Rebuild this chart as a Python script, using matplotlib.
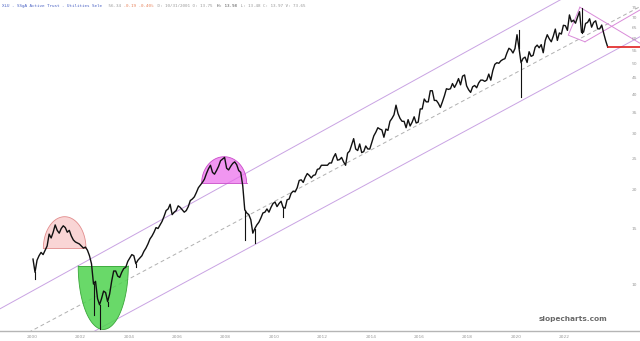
import numpy as np
from matplotlib import pyplot as plt

# XLU monthly closes (dividend adjusted), Jan 2000 .. Oct 2023
closes_2000 = [12.0, 10.9, 11.9, 12.3, 12.6, 12.4, 12.8, 13.2, 14.4, 14.0, 14.6, 15.4]
closes_2001 = [14.8, 14.5, 15.0, 15.3, 15.1, 14.6, 14.8, 14.2, 13.8, 13.6, 13.5, 13.4]
closes_2002 = [13.2, 13.0, 13.1, 12.8, 12.3, 11.6, 10.0, 10.2, 9.0, 8.6, 9.0, 9.5]
closes_2003 = [9.4, 8.8, 9.3, 10.2, 11.0, 11.0, 10.6, 10.5, 10.9, 11.2, 11.3, 11.8]
closes_2004 = [12.1, 12.4, 12.3, 11.6, 11.9, 12.1, 12.3, 12.7, 13.0, 13.4, 13.9, 14.2]
closes_2005 = [14.6, 15.1, 15.0, 15.4, 15.8, 16.4, 17.1, 17.3, 17.9, 16.6, 16.9, 17.1]
closes_2006 = [17.7, 17.5, 17.2, 16.9, 17.1, 17.6, 18.4, 18.6, 18.9, 19.5, 20.2, 20.6]
closes_2007 = [21.0, 21.5, 22.4, 23.2, 23.8, 22.6, 22.3, 22.9, 23.6, 24.6, 24.9, 25.2]
closes_2008 = [23.3, 23.0, 23.6, 24.1, 24.4, 23.9, 22.9, 22.6, 20.5, 17.2, 16.8, 16.6]
closes_2009 = [16.0, 14.5, 15.0, 15.4, 15.7, 16.2, 16.8, 16.9, 17.3, 16.9, 17.5, 18.0]
closes_2010 = [18.2, 17.6, 18.0, 18.3, 17.5, 17.4, 18.5, 18.6, 19.4, 19.7, 19.6, 20.2]
closes_2011 = [21.3, 21.4, 21.0, 21.8, 22.4, 22.1, 21.7, 22.1, 22.2, 23.1, 23.2, 23.8]
closes_2012 = [23.8, 23.8, 23.8, 24.2, 24.2, 25.2, 25.9, 24.7, 24.8, 25.2, 24.4, 23.8]
closes_2013 = [26.0, 26.4, 27.6, 28.9, 26.8, 26.5, 27.8, 26.1, 26.3, 27.4, 26.8, 26.8]
closes_2014 = [28.1, 29.5, 30.3, 31.3, 31.0, 30.8, 29.2, 31.0, 30.7, 32.8, 33.5, 34.4]
closes_2015 = [36.9, 34.7, 33.5, 32.8, 32.8, 31.3, 33.2, 31.7, 32.6, 33.9, 32.4, 32.6]
closes_2016 = [35.9, 35.9, 38.6, 37.8, 37.8, 41.0, 41.0, 38.2, 38.2, 37.4, 36.3, 37.8]
closes_2017 = [39.5, 41.6, 41.4, 41.6, 43.2, 42.0, 43.2, 44.8, 42.8, 45.6, 46.0, 42.5]
closes_2018 = [41.3, 40.5, 42.2, 42.6, 41.9, 43.4, 44.3, 44.3, 43.9, 44.3, 46.3, 44.3]
closes_2019 = [47.5, 49.7, 50.3, 50.1, 51.0, 51.5, 51.8, 54.0, 55.9, 55.3, 54.0, 55.8]
closes_2020 = [61.7, 55.9, 50.3, 51.9, 52.4, 50.4, 54.5, 52.7, 53.1, 56.3, 57.2, 56.1]
closes_2021 = [57.4, 54.1, 59.2, 61.7, 59.9, 58.6, 61.1, 64.3, 59.2, 62.5, 62.0, 66.1]
closes_2022 = [65.9, 63.7, 71.3, 67.8, 68.6, 67.1, 70.1, 73.0, 62.7, 62.9, 67.0, 67.5]
closes_2023 = [69.3, 65.2, 67.5, 68.3, 64.4, 64.4, 66.2, 62.3, 59.0, 56.34]

closes = (closes_2000 + closes_2001 + closes_2002 + closes_2003 + closes_2004 + closes_2005
          + closes_2006 + closes_2007 + closes_2008 + closes_2009 + closes_2010 + closes_2011
          + closes_2012 + closes_2013 + closes_2014 + closes_2015 + closes_2016 + closes_2017
          + closes_2018 + closes_2019 + closes_2020 + closes_2021 + closes_2022 + closes_2023)

# intra-month extremes that stick out of the close line
spike_months = ['2000-02', '2002-07', '2002-10', '2003-02', '2004-04', '2008-10',
                '2009-03', '2010-05', '2020-02', '2020-03', '2022-09']
spike_values = [10.4, 8.0, 7.2, 8.5, 11.3, 13.8, 13.5, 16.3, 64.0, 39.1, 75.0]

year_ticks = [2000, 2002, 2004, 2006, 2008, 2010, 2012, 2014, 2016, 2018, 2020, 2022]
price_ticks = [10, 15, 20, 25, 30, 35, 40, 45, 50, 55, 60, 65, 70, 75]

# drawn annotations (year, price)
dome_2001 = (2000.47, 2002.23, 12.98, 16.35)
bowl_2002 = (2001.91, 2003.98, 11.41, 7.18)
dome_2007 = (2007.01, 2008.87, 20.85, 25.33)
channel_upper = ((1998.68, 8.35), (2021.82, 79.5))
channel_mid = ((2000.19, 7.25), (2025.12, 75.7))
channel_lower = ((2002.67, 7.15), (2025.12, 60.8))
pattern_a = (2022.16, 61.5)
pattern_b = (2022.64, 75.4)
pattern_c = (2022.85, 58.6)
pattern_b_end = (2025.12, 58.0)
pattern_c_end = (2025.12, 73.9)

title_parts = [('XLU - SSgA Active Trust - Utilities Sele', '#4a62c4'),
               (' 56.34', '#9a9a9a'),
               (' -0.19 -0.40%', '#e8825a'),
               (' D: 10/31/2001 O: 13.75 ', '#9a9a9a'),
               ('H: 13.98', '#555555'),
               (' L: 13.48 C: 13.97 V: 73.65', '#9a9a9a')]

XMIN, XMAX = 1998.678, 2025.124
YMIN, YMAX = 7.10, 79.5


def month_pos(i):
    return 2000 + (i + 0.5) / 12


def spike_pos(label):
    y, m = label.split('-')
    return int(y) + (int(m) - 0.5) / 12


def dome(ax, shape, face, edge, alpha):
    t0, t1, base, peak = shape
    th = np.linspace(0, np.pi, 120)
    t = (t0 + t1) / 2 - (t1 - t0) / 2 * np.cos(th)
    v = base * (peak / base) ** np.sin(th)
    ax.fill(t, v, color=face, alpha=alpha, lw=0, zorder=1)
    ax.plot(t, v, color=edge, lw=0.6, zorder=1)
    ax.plot([t0, t1], [base, base], color=edge, lw=0.6, zorder=1)


def extend(p, q):
    (t1, v1), (t2, v2) = p, q
    k = (np.log(v2) - np.log(v1)) / (t2 - t1)
    ts = np.array([XMIN, XMAX])
    return ts, v1 * np.exp(k * (ts - t1))


fig = plt.figure(figsize=(6.4, 3.41), dpi=100)
ax = fig.add_axes([0, 10 / 341, 1, 331 / 341])
ax.set_yscale('log')
ax.set_xlim(XMIN, XMAX)
ax.set_ylim(YMIN, YMAX)

# channel
for line, col, ls in [(channel_upper, '#c9a3e3', '-'), (channel_mid, '#b0b0b0', (0, (4, 3))),
                      (channel_lower, '#c9a3e3', '-')]:
    ts, vs = extend(*line)
    ax.plot(ts, vs, color=col, lw=0.7, ls=ls, zorder=1)

# rounding patterns
dome(ax, dome_2001, '#f5b3b3', '#e28c8c', 0.55)
dome(ax, bowl_2002, '#4fd34f', '#3aa63a', 0.85)
dome(ax, dome_2007, '#ec6aec', '#c94cc9', 0.7)

# broadening pattern at the top
pat_col = '#d98bd9'
ax.plot([pattern_b[0], pattern_a[0], pattern_c[0]], [pattern_b[1], pattern_a[1], pattern_c[1]],
        color=pat_col, lw=0.7, zorder=1)
ax.plot([pattern_b[0], pattern_b_end[0]], [pattern_b[1], pattern_b_end[1]], color=pat_col, lw=0.7, zorder=1)
ax.plot([pattern_c[0], pattern_c_end[0]], [pattern_c[1], pattern_c_end[1]], color=pat_col, lw=0.7, zorder=1)

# price
xs = [month_pos(i) for i in range(len(closes))]
ax.plot(xs, closes, color='#111111', lw=1.0, zorder=3)
for lab, val in zip(spike_months, spike_values):
    t = spike_pos(lab)
    base = closes[int(round((t - 2000) * 12 - 0.5))]
    ax.plot([t, t], [base, val], color='#111111', lw=0.8, zorder=3)

ax.plot([xs[-1], XMAX], [closes[-1], closes[-1]], color='#e02020', lw=1.2, zorder=4)

# axes styling
for s in ['top', 'left', 'right']:
    ax.spines[s].set_visible(False)
ax.spines['bottom'].set_color('#b5b5b5')
ax.spines['bottom'].set_linewidth(1.0)
ax.set_xticks(year_ticks)
ax.set_xticklabels([str(y) for y in year_ticks])
ax.tick_params(axis='x', length=0, pad=3, labelsize=3.2, labelcolor='#999999')
ax.yaxis.set_major_locator(plt.FixedLocator(price_ticks))
ax.yaxis.set_minor_locator(plt.NullLocator())
ax.yaxis.set_minor_formatter(plt.NullFormatter())
ax.set_yticklabels([str(p) for p in price_ticks])
ax.tick_params(axis='y', which='both', left=False, right=False, labelleft=False, labelright=True,
               length=0, pad=-6, labelsize=3.2, labelcolor='#999999')

# header line
x_px = 1.5
for txt, col in title_parts:
    fig.text(x_px / 640, 1 - 6 / 341, txt, family='DejaVu Sans Mono', fontsize=3.1,
             color=col, va='center', ha='left')
    x_px += len(txt) * 2.6

fig.text(573 / 640, 1 - 319 / 341, 'slopecharts.com', fontsize=5.3, color='#6a6a6a',
         ha='center', va='center', fontweight='bold')

fig.savefig('out.png', dpi=100)
